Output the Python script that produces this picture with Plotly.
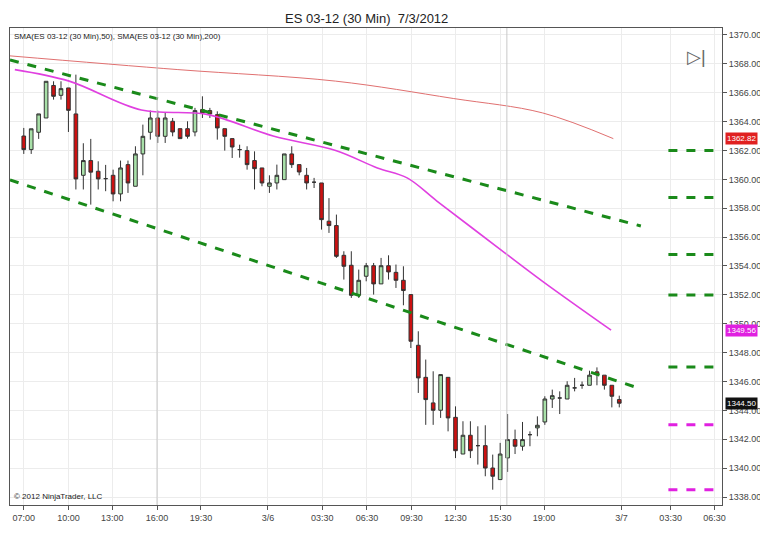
import plotly.graph_objects as go

opens = [1363.0,1362.06,1363.26,1364.25,1366.5,1365.82,1366.33,1364.53,1360.28,1361.3,1360.56,1360.05,1360.28,1358.99,1361.02,1359.52,1361.76,1363.26,1364.25,1362.98,1364.02,1363.51,1363.51,1363.28,1364.83,1364.76,1364.48,1363.51,1362.82,1362.06,1361.99,1361.3,1360.79,1359.52,1359.75,1359.98,1361.76,1361.02,1360.28,1359.8,
         1359.75,1357.1,1356.8,1354.74,1354.05,1351.97,1353.29,1354.02,1352.76,1354.02,1353.56,1353.01,1352.02,1348.51,1346.29,1344.52,1344.01,1346.29,1343.52,1340.98,1342.28,1341.56,1341.56,1340.01,1339.21,1340.71,1341.98,1341.52,1342.32,1342.79,1343.2,1344.79,1344.86,1344.79,1345.56,1345.74,1345.74,1346.67,1346.44,1345.74,1344.75]
closes = [1362.06,1363.5,1364.53,1366.79,1365.75,1366.28,1364.78,1360.03,1361.3,1360.5,1360.03,1360.05,1358.99,1360.79,1359.75,1361.76,1362.98,1364.25,1362.98,1364.25,1363.28,1362.82,1362.98,1364.76,1364.6,1364.53,1363.56,1362.98,1362.24,1362.06,1361.02,1360.74,1359.75,1359.75,1360.28,1361.76,1361.02,1360.51,1359.75,1359.8,
          1357.21,1356.8,1354.67,1353.98,1351.97,1353.01,1354.02,1352.76,1354.02,1353.59,1353.01,1352.3,1348.79,1346.25,1344.75,1344.01,1346.48,1343.48,1341.21,1342.28,1341.21,1341.56,1340.01,1339.44,1340.98,1341.98,1341.52,1341.98,1342.32,1342.97,1344.79,1345.02,1344.86,1345.74,1345.56,1345.74,1346.44,1346.48,1345.74,1344.98,1344.50]
highs = [1363.56,1363.5,1364.53,1366.79,1366.79,1366.79,1366.33,1367.25,1362.5,1362.8,1361.25,1361.0,1360.67,1361.3,1361.3,1362.29,1363.79,1364.76,1364.76,1364.6,1364.25,1363.51,1364.02,1364.95,1365.75,1364.95,1364.71,1363.51,1362.82,1362.4,1362.29,1361.94,1360.79,1360.28,1361.02,1361.76,1362.29,1361.02,1360.79,1360.1,
         1359.75,1358.7,1357.56,1355.02,1355.02,1353.75,1354.21,1354.21,1354.56,1354.74,1354.1,1353.98,1352.02,1349.48,1347.52,1346.71,1346.48,1346.29,1344.28,1343.25,1343.25,1342.9,1342.97,1340.94,1341.75,1343.75,1342.67,1343.2,1342.55,1343.59,1344.98,1345.44,1345.32,1346.02,1346.25,1346.0,1346.75,1346.98,1346.44,1345.74,1345.02]
lows = [1361.76,1361.76,1362.8,1364.25,1365.52,1365.52,1363.28,1359.3,1359.3,1358.25,1359.3,1359.18,1358.48,1358.48,1359.06,1359.52,1360.28,1362.75,1362.52,1362.52,1362.98,1362.82,1362.82,1362.98,1364.25,1364.25,1362.75,1361.99,1361.48,1361.5,1360.67,1359.3,1359.52,1359.06,1359.3,1359.98,1360.79,1360.28,1359.3,1359.4,
        1356.52,1356.29,1354.56,1353.06,1351.79,1351.79,1352.94,1352.02,1352.76,1353.06,1352.48,1351.28,1348.32,1345.21,1343.0,1343.0,1343.48,1342.55,1340.7,1340.98,1340.7,1340.25,1339.44,1338.51,1339.21,1339.74,1340.98,1341.21,1341.52,1342.21,1343.0,1344.17,1343.75,1344.79,1345.32,1345.5,1345.74,1345.74,1345.44,1344.21,1344.21]
bar_idx = list(range(len(opens)))

sma200_x = [-1.85, 20.7, 41.9, 57.7, 69.7, 79.2]
sma200_y = [1368.55, 1367.6, 1366.8, 1365.6, 1364.6, 1362.82]
sma50_x = [-1.2, 6.1, 15.8, 24.6, 33.5, 41.9, 47.5, 51.5, 55.5, 64.4, 69.7, 78.9]
sma50_y = [1367.6, 1366.8, 1364.8, 1364.5, 1363.0, 1362.0, 1360.79, 1360.1, 1358.5, 1355.0, 1352.94, 1349.56]
trend_x = [-1.85, 82.9]
upper_trend = [1368.27, 1356.77]
lower_trend = [1359.96, 1345.49]
level_x = [86.6, 93.8]
green_levels = [1362.0, 1358.75, 1354.8, 1352.0, 1347.0]
magenta_levels = [1343.0, 1338.5]

tick_vals = [0, 6, 11.9, 17.9, 23.8, 32.8, 40.1, 46.1, 52.1, 58.0, 64.0, 69.9, 80.3, 86.9, 92.8]
tick_text = ["07:00","10:00","13:00","16:00","19:30","3/6","03:30","06:30","09:30","12:30","15:30","19:00","3/7","03:30","06:30"]

fig = go.Figure()
fig.add_trace(go.Scatter(x=sma200_x, y=sma200_y, mode="lines", line=dict(color="#e07070", width=1), line_shape="spline"))
fig.add_trace(go.Scatter(x=sma50_x, y=sma50_y, mode="lines", line=dict(color="#e040e0", width=1.6), line_shape="spline"))
for tr in (upper_trend, lower_trend):
    fig.add_trace(go.Scatter(x=trend_x, y=tr, mode="lines", line=dict(color="#1a8a1a", width=3, dash="dash")))
for lv in green_levels:
    fig.add_trace(go.Scatter(x=level_x, y=[lv, lv], mode="lines", line=dict(color="#1a8a1a", width=3, dash="dash")))
for lv in magenta_levels:
    fig.add_trace(go.Scatter(x=level_x, y=[lv, lv], mode="lines", line=dict(color="#e020e0", width=3, dash="dash")))
fig.add_trace(go.Candlestick(x=bar_idx, open=opens, high=highs, low=lows, close=closes, whiskerwidth=0,
    increasing=dict(line=dict(color="#333333", width=1), fillcolor="#a8e0a8"),
    decreasing=dict(line=dict(color="#333333", width=1), fillcolor="#cc1111")))

for v in [17.9, 64.9]:
    fig.add_vline(x=v, line=dict(color="#c8c8c8", width=1))

for val, col in [(sma200_y[-1], "#e02020"), (sma50_y[-1], "#e020e0"), (closes[-1], "#111111")]:
    fig.add_annotation(x=1.0, xref="paper", y=val, yref="y", text=f"{val:.2f}", showarrow=False,
                       xanchor="left", bgcolor=col, font=dict(color="white", size=8, family="Liberation Sans"), borderpad=1, xshift=3)

fig.add_annotation(x=0.5, xref="paper", y=1.0, yref="paper", yshift=10, text="ES 03-12 (30 Min)  7/3/2012",
                   showarrow=False, font=dict(size=13, color="#222"), yanchor="middle")
fig.add_annotation(x=0.003, xref="paper", y=0.995, yref="paper", text="SMA(ES 03-12 (30 Min),50), SMA(ES 03-12 (30 Min),200)",
                   showarrow=False, xanchor="left", yanchor="top", font=dict(size=8, color="#222"))
fig.add_annotation(x=0.003, xref="paper", y=0.005, yref="paper", text="© 2012 NinjaTrader, LLC",
                   showarrow=False, xanchor="left", yanchor="bottom", font=dict(size=8, color="#222"))
fig.add_annotation(x=0.98, xref="paper", y=0.965, yref="paper", text="▷|", showarrow=False,
                   font=dict(size=18, color="#666"))

fig.update_layout(
    width=768, height=544, margin=dict(l=2, r=54, t=20, b=47),
    paper_bgcolor="white", plot_bgcolor="white", showlegend=False,
    font=dict(family="Liberation Sans", size=9, color="#444"),
    xaxis=dict(range=[-1.85, 93.8], tickvals=tick_vals, ticktext=tick_text, rangeslider=dict(visible=False),
               showgrid=True, gridcolor="#ececec", ticks="outside", ticklen=4, tickcolor="#555",
               showline=True, linecolor="#555", mirror=True, zeroline=False),
    yaxis=dict(range=[1337.45, 1370.48], side="right", dtick=2, tickformat=".2f", showgrid=True, gridcolor="#ececec",
               ticks="outside", ticklen=4, tickcolor="#555", showline=True, linecolor="#555", mirror=True, zeroline=False),
)
fig.write_html("out.html")
